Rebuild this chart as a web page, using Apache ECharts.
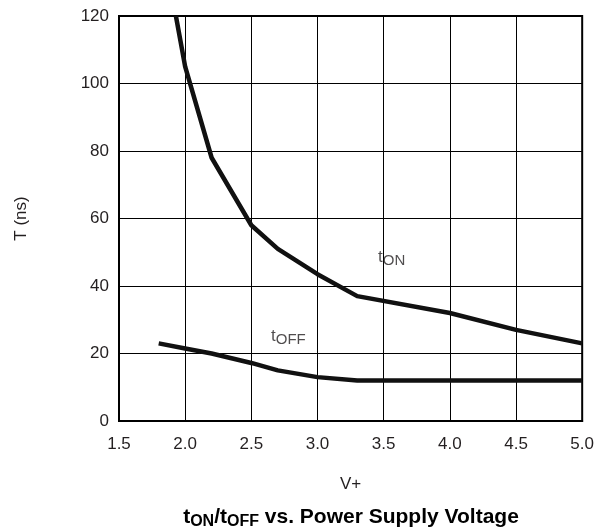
<!DOCTYPE html>
<html>
<head>
<meta charset="utf-8">
<script src="https://cdn.jsdelivr.net/npm/echarts@6/dist/echarts.min.js"></script>
<style>html,body{margin:0;padding:0;background:#fff;}#c{width:597px;height:531px;}</style>
</head>
<body>
<div id="c"></div>
<script>
const tOnV = [1.93, 2.0, 2.2, 2.5, 2.7, 3.0, 3.3, 4.0, 4.5, 5.0];
const tOnT = [120, 105, 78, 58, 51, 43.5, 37, 32, 27, 23];
const tOffV = [1.8, 2.0, 2.2, 2.5, 2.7, 3.0, 3.3, 4.0, 4.5, 5.0];
const tOffT = [23, 21.5, 20, 17.2, 15, 13, 12, 12, 12, 12];
const labelPos = { ton: [3.56, 48.6], toff: [2.78, 25.2] };
const xTicks = { min: 1.5, max: 5.0, interval: 0.5 };
const yTicks = { min: 0, max: 120, interval: 20 };

const FONT = 'Liberation Sans, Arial, sans-serif';
const TXT = '#231f20';
const pair = (a, b) => a.map((v, i) => [v, b[i]]);

const chart = echarts.init(document.getElementById('c'), null, { renderer: 'canvas' });
chart.setOption({
  animation: false,
  backgroundColor: '#fff',
  textStyle: { fontFamily: FONT },
  title: {
    text: '{b|t}{s|ON}{b|/t}{s|OFF}{b| vs. Power Supply Voltage}',
    left: 346,
    textAlign: 'center',
    top: 499,
    textStyle: {
      rich: {
        b: { fontFamily: FONT, fontSize: 21, fontWeight: 'bold', color: '#000', lineHeight: 26 },
        s: { fontFamily: FONT, fontSize: 16, fontWeight: 'bold', color: '#000', lineHeight: 16, padding: [10, 0, 0, 0] }
      }
    }
  },
  grid: { left: 119, right: 14, top: 16, bottom: 110, show: true, borderColor: '#000', borderWidth: 2 },
  xAxis: {
    type: 'value', min: xTicks.min, max: xTicks.max, interval: xTicks.interval,
    name: 'V+', nameLocation: 'middle', nameGap: 55,
    nameTextStyle: { fontFamily: FONT, fontSize: 17, color: TXT },
    axisLine: { show: true, lineStyle: { color: '#000', width: 2 } },
    axisTick: { show: false },
    axisLabel: { fontFamily: FONT, fontSize: 17, color: TXT, margin: 15, formatter: v => v.toFixed(1) },
    splitLine: { show: true, lineStyle: { color: '#000', width: 1 } }
  },
  yAxis: {
    type: 'value', min: yTicks.min, max: yTicks.max, interval: yTicks.interval,
    name: 'T (ns)', nameLocation: 'middle', nameGap: 89,
    nameTextStyle: { fontFamily: FONT, fontSize: 17, color: TXT },
    axisLine: { show: true, lineStyle: { color: '#000', width: 2 } },
    axisTick: { show: false },
    axisLabel: { fontFamily: FONT, fontSize: 17, color: TXT, margin: 10 },
    splitLine: { show: true, lineStyle: { color: '#000', width: 1 } }
  },
  series: [
    {
      type: 'line', name: 'tON', data: pair(tOnV, tOnT), symbol: 'none',
      lineStyle: { color: '#111', width: 4.5, join: 'round' }, clip: true
    },
    {
      type: 'line', name: 'tOFF', data: pair(tOffV, tOffT), symbol: 'none',
      lineStyle: { color: '#111', width: 4.5, join: 'round' }, clip: true
    },
    {
      type: 'scatter', symbolSize: 0, silent: true,
      data: [
        { value: labelPos.ton, label: { formatter: '{t|t}{s|ON}' } },
        { value: labelPos.toff, label: { formatter: '{t|t}{s|OFF}' } }
      ],
      label: {
        show: true, position: 'inside',
        rich: {
          t: { fontFamily: FONT, fontSize: 17, color: TXT, lineHeight: 20 },
          s: { fontFamily: FONT, fontSize: 15, color: TXT, lineHeight: 14, padding: [8, 0, 0, 0] }
        }
      }
    }
  ]
});
</script>
</body>
</html>
